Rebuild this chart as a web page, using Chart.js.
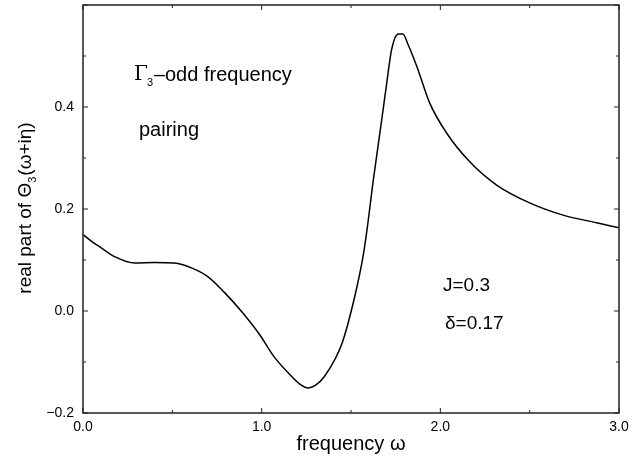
<!DOCTYPE html>
<html>
<head>
<meta charset="utf-8">
<script src="https://cdn.jsdelivr.net/npm/chart.js@4.4.0/dist/chart.umd.min.js"></script>
<style>
  html, body { margin: 0; padding: 0; background: #fff; }
  #wrap { width: 642px; height: 456px; }
</style>
</head>
<body>
<div id="wrap"><canvas id="chart1" width="642" height="456"></canvas></div>
<script>
// frequency omega and real part of Theta_3(omega + i eta)
var omega = [0.00, 0.05, 0.106, 0.18, 0.29, 0.40, 0.51, 0.61, 0.70, 0.79, 0.89, 0.99, 1.07,
  1.17, 1.22, 1.26, 1.30, 1.35, 1.45, 1.52, 1.567, 1.588, 1.625, 1.672, 1.70, 1.727, 1.765, 1.79,
  1.82, 1.87, 1.94, 2.035, 2.166, 2.315, 2.50, 2.687, 2.875, 3.00];
var reTheta = [0.150, 0.136, 0.123, 0.106, 0.094, 0.095, 0.094, 0.084, 0.067, 0.037, -0.002,
  -0.047, -0.090, -0.129, -0.145, -0.151, -0.146, -0.129, -0.063, 0.027, 0.106, 0.155, 0.257,
  0.375, 0.447, 0.512, 0.543, 0.543, 0.522, 0.478, 0.408, 0.349, 0.292, 0.247, 0.212, 0.188,
  0.173, 0.163];

var xLabels = ["0.0", "1.0", "2.0", "3.0"];
var yLabels = ["\u22120.2", "0.0", "0.2", "0.4"];

var FONT = "'Liberation Sans', Arial, sans-serif";

// frame, inward ticks on all four sides, y title and the in-plot notes
var framePlugin = {
  id: "frame",
  afterDraw: function (chart) {
    var ctx = chart.ctx;
    var a = chart.chartArea;
    var xs = chart.scales.x, ys = chart.scales.y;
    ctx.save();
    ctx.strokeStyle = "#222";
    ctx.lineWidth = 1.5;
    ctx.strokeRect(a.left, a.top, a.right - a.left, a.bottom - a.top);
    ctx.lineWidth = 1;
    for (var i = 0; i <= 6; i++) {
      var v = i * 0.5;
      var len = (i % 2 === 0) ? 5 : 3;
      var px = xs.getPixelForValue(v);
      ctx.beginPath();
      ctx.moveTo(px, a.bottom); ctx.lineTo(px, a.bottom - len);
      ctx.moveTo(px, a.top); ctx.lineTo(px, a.top + len);
      ctx.stroke();
    }
    for (var j = -2; j <= 6; j++) {
      var len2 = (j % 2 === 0) ? 5 : 3;
      var py = ys.getPixelForValue(j / 10);
      ctx.beginPath();
      ctx.moveTo(a.left, py); ctx.lineTo(a.left + len2, py);
      ctx.moveTo(a.right, py); ctx.lineTo(a.right - len2, py);
      ctx.stroke();
    }

    ctx.fillStyle = "#000";
    ctx.textBaseline = "middle";

    // y axis title with subscript
    ctx.save();
    ctx.translate(26, 208);
    ctx.rotate(-Math.PI / 2);
    var p1 = "real part of \u0398", sub = "3", p2 = "(\u03c9+i\u03b7)";
    ctx.font = "19px " + FONT;
    var w1 = ctx.measureText(p1).width, w3 = ctx.measureText(p2).width;
    ctx.font = "11px " + FONT;
    var w2 = ctx.measureText(sub).width + 1;
    var x0 = -(w1 + w2 + w3) / 2;
    ctx.textAlign = "left";
    ctx.font = "19px " + FONT;
    ctx.fillText(p1, x0, 0);
    ctx.font = "11px " + FONT;
    ctx.fillText(sub, x0 + w1, 7);
    ctx.font = "19px " + FONT;
    ctx.fillText(p2, x0 + w1 + w2, 0);
    ctx.restore();

    // notes inside the plot
    ctx.textAlign = "left";
    ctx.font = "20px 'DejaVu Serif', serif";
    ctx.fillText("\u0393", 134, 75);
    var gw = ctx.measureText("\u0393").width;
    ctx.font = "11px " + FONT;
    ctx.fillText("3", 134 + gw - 1, 83);
    ctx.font = "20px " + FONT;
    ctx.fillText("\u2013odd frequency", 134 + gw + 6, 75);
    ctx.fillText("pairing", 139, 130);
    ctx.font = "19px " + FONT;
    ctx.fillText("J=0.3", 443, 286);
    ctx.fillText("\u03b4=0.17", 445, 324);
    ctx.restore();
  }
};

var points = omega.map(function (w, i) {
  return { x: w, y: reTheta[i] };
});

var chart = new Chart("chart1", {
  type: "line",
  plugins: [framePlugin],
  data: {
    datasets: [
      {
        data: points,
        borderColor: "#000",
        borderWidth: 1.5,
        pointRadius: 0,
        fill: false,
        cubicInterpolationMode: "monotone",
      },
    ],
  },
  options: {
    responsive: false,
    animation: false,
    layout: { padding: { top: 5, right: 23, left: 0, bottom: 0 } },
    plugins: {
      legend: { display: false },
      tooltip: { enabled: false },
    },
    scales: {
      x: {
        type: "linear",
        min: 0,
        max: 3,
        grid: { display: false, drawTicks: false },
        border: { display: false },
        ticks: {
          stepSize: 0.5,
          autoSkip: false,
          maxRotation: 0,
          padding: 6,
          color: "#000",
          font: { family: FONT, size: 14 },
          callback: function (v) {
            var k = Math.round(v * 2);
            return k % 2 === 0 ? xLabels[k / 2] : null;
          },
        },
        title: {
          display: true,
          text: "frequency \u03c9",
          color: "#000",
          font: { family: FONT, size: 20 },
          padding: { top: 0, bottom: 0 },
        },
        afterFit: function (s) {
          s.height = 43;
          s.paddingLeft = 0;
          s.paddingRight = 0;
        },
      },
      y: {
        type: "linear",
        min: -0.2,
        max: 0.6,
        grid: { display: false, drawTicks: false },
        border: { display: false },
        ticks: {
          stepSize: 0.1,
          autoSkip: false,
          padding: 9,
          color: "#000",
          font: { family: FONT, size: 14 },
          callback: function (v) {
            var k = Math.round(v * 10);
            if (k % 2 !== 0 || k > 4) return null;
            return yLabels[(k + 2) / 2];
          },
        },
        afterFit: function (s) {
          s.width = 83;
          s.paddingTop = 0;
          s.paddingBottom = 0;
        },
      },
    },
  },
});
</script>
</body>
</html>
